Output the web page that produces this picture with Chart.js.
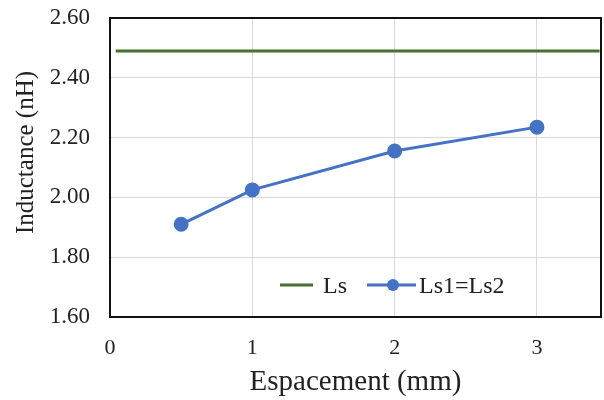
<!DOCTYPE html>
<html lang="fr">
<head>
  <meta charset="UTF-8" />
  <title>Inductance vs espacement</title>
  <script src="https://cdn.jsdelivr.net/npm/chart.js"></script>
  <style>
    html, body { margin: 0; padding: 0; background: #fff; }
    #wrap { width: 604px; height: 400px; }
  </style>
</head>
<body>
<div id="wrap"><canvas id="chart"></canvas></div>
<script>
// values
const espacement = [0.5, 1, 2, 3];
const ls12 = [1.91, 2.025, 2.155, 2.235];
const lsX = [0.04, 3.44];
const lsY = [2.49, 2.49];
const xTicks = [0, 1, 2, 3];
const labels = ['Ls', 'Ls1=Ls2'];
const yTitle = 'Inductance (nH)';

const GREEN = '#4a7030';
const BLUE = '#4472c4';
const SERIF = '"Liberation Serif", "Times New Roman", serif';

// black frame around the plot area
const frame = {
  id: 'frame',
  beforeDatasetsDraw(chart) {
    const { ctx, chartArea: a } = chart;
    ctx.save();
    ctx.strokeStyle = '#111';
    ctx.lineWidth = 2;
    ctx.strokeRect(a.left, a.top, a.right - a.left, a.bottom - a.top);
    ctx.restore();
  }
};

// y title sits a bit above the plot middle in the original
const sideTitle = {
  id: 'sideTitle',
  afterDraw(chart) {
    const { ctx, chartArea: a } = chart;
    ctx.save();
    ctx.translate(26, (a.top + a.bottom) / 2 - 15);
    ctx.rotate(-Math.PI / 2);
    ctx.font = '25px ' + SERIF;
    ctx.fillStyle = '#222';
    ctx.textAlign = 'center';
    ctx.textBaseline = 'middle';
    ctx.fillText(yTitle, 0, 0);
    ctx.restore();
  }
};

// legend sits inside the plot, near the bottom
const innerLegend = {
  id: 'innerLegend',
  afterDraw(chart) {
    const { ctx, chartArea: a } = chart;
    const y = a.bottom - 32;
    ctx.save();
    ctx.font = '24px ' + SERIF;
    ctx.fillStyle = '#222';
    ctx.textBaseline = 'middle';
    ctx.lineWidth = 3;

    let x = a.left + 170;
    ctx.strokeStyle = GREEN;
    ctx.beginPath(); ctx.moveTo(x, y); ctx.lineTo(x + 33, y); ctx.stroke();
    ctx.fillText(labels[0], x + 43, y + 2);

    x = a.left + 257;
    ctx.strokeStyle = BLUE;
    ctx.beginPath(); ctx.moveTo(x, y); ctx.lineTo(x + 49, y); ctx.stroke();
    ctx.fillStyle = BLUE;
    ctx.beginPath(); ctx.arc(x + 26, y, 6, 0, Math.PI * 2); ctx.fill();
    ctx.fillStyle = '#222';
    ctx.fillText(labels[1], x + 52, y + 2);
    ctx.restore();
  }
};

new Chart(document.getElementById('chart'), {
  type: 'scatter',
  data: {
    datasets: [
      {
        label: labels[0],
        data: lsX.map((x, i) => ({ x, y: lsY[i] })),
        showLine: true,
        borderColor: GREEN,
        backgroundColor: GREEN,
        borderWidth: 3,
        pointRadius: 0
      },
      {
        label: labels[1],
        data: espacement.map((x, i) => ({ x, y: ls12[i] })),
        showLine: true,
        borderColor: BLUE,
        backgroundColor: BLUE,
        borderWidth: 3,
        pointRadius: 6,
        pointHoverRadius: 6
      }
    ]
  },
  options: {
    responsive: true,
    maintainAspectRatio: false,
    animation: false,
    layout: { autoPadding: false, padding: { top: 0, right: 3, left: 0, bottom: 0 } },
    plugins: { legend: { display: false }, tooltip: { enabled: false } },
    scales: {
      x: {
        type: 'linear',
        min: 0,
        max: 3.45,
        afterFit(s) { s.height = 83; s.paddingLeft = 0; s.paddingRight = 0; },
        afterBuildTicks(s) { s.ticks = xTicks.map(v => ({ value: v })); },
        grid: { color: '#d9d9d9', lineWidth: 1, drawTicks: false },
        border: { display: false },
        ticks: { padding: 18, color: '#222', font: { family: SERIF, size: 22 } },
        title: {
          display: true,
          text: 'Espacement (mm)',
          color: '#222',
          font: { family: SERIF, size: 29 },
          padding: { top: 0, bottom: 0 }
        }
      },
      y: {
        min: 1.6,
        max: 2.6,
        afterFit(s) { s.width = 110; s.paddingTop = 18; s.paddingBottom = 0; },
        grid: { color: '#d9d9d9', lineWidth: 1, drawTicks: false },
        border: { display: false },
        ticks: {
          stepSize: 0.2,
          padding: 20,
          color: '#222',
          font: { family: SERIF, size: 23 },
          callback: v => v.toFixed(2)
        }
      }
    }
  },
  plugins: [frame, sideTitle, innerLegend]
});
</script>
</body>
</html>
